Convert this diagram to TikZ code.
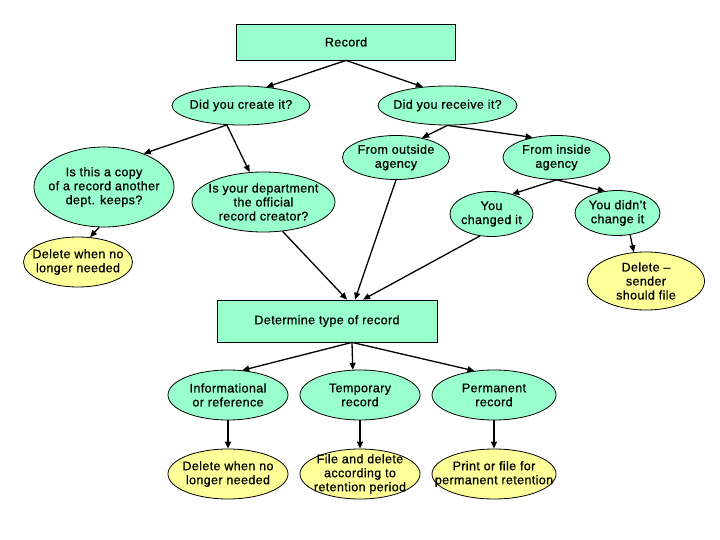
\documentclass[tikz,border=0pt]{standalone}
\usepackage{fontspec}
\setmainfont{Liberation Sans}[LetterSpace=3,FakeBold=0.8]
\usetikzlibrary{shapes.geometric,arrows.meta}
\definecolor{mint}{RGB}{153,255,204}
\definecolor{pale}{RGB}{255,255,153}
\begin{document}
\begin{tikzpicture}[x=1pt,y=-1pt,
  every node/.style={font=\fontsize{12.5}{14}\selectfont, align=center, inner sep=0pt},
  box/.style={draw=black, line width=0.8pt, fill=mint, rectangle},
  qell/.style={draw=black, line width=0.8pt, fill=mint, ellipse},
  yell/.style={draw=black, line width=0.8pt, fill=pale, ellipse},
  txt/.style={label={[align=center]center:#1}},
  arr/.style={draw=black, line width=1.3pt, -{Triangle[length=7pt,width=6pt]}}]
\useasboundingbox (0,0) rectangle (720,540);
% nodes
\node[box, minimum width=219, minimum height=36] (record) at (346,42) {Record};
\node[qell, minimum width=138, minimum height=39, txt={Did you create it?}] (create) at (241,105.5) {};
\node[qell, minimum width=139, minimum height=39, txt={Did you receive it?}] (receive) at (447.5,105.5) {};
\node[qell, minimum width=140, minimum height=80, txt={Is this a copy\\of a record another\\dept. keeps?}] (copy) at (104,187) {};
\node[qell, minimum width=143, minimum height=60, txt={Is your department\\the official\\record creator?}] (dept) at (263.5,202) {};
\node[yell, minimum width=109, minimum height=50, txt={Delete when no\\longer needed}] (del1) at (78,262) {};
\node[qell, minimum width=107, minimum height=44, txt={From outside\\agency}] (outside) at (396,157.5) {};
\node[qell, minimum width=107, minimum height=44, txt={From inside\\agency}] (inside) at (556.5,157.5) {};
\node[qell, minimum width=83, minimum height=45, txt={You\\changed it}] (changed) at (491.5,214) {};
\node[qell, minimum width=85, minimum height=45, txt={You didn't\\change it}] (didnt) at (617.5,213) {};
\node[yell, minimum width=117, minimum height=58, txt={Delete --\\sender\\should file}] (sender) at (646,281) {};
\node[box, minimum width=220, minimum height=42] (det) at (327,321) {Determine type of record};
\node[qell, minimum width=120, minimum height=50, txt={Informational\\or reference}] (info) at (228,395) {};
\node[qell, minimum width=120, minimum height=50, txt={Temporary\\record}] (temp) at (360,395) {};
\node[qell, minimum width=124, minimum height=50, txt={Permanent\\record}] (perm) at (494,395) {};
\node[yell, minimum width=120, minimum height=50, txt={Delete when no\\longer needed}] (del2) at (228,474) {};
\node[yell, minimum width=120, minimum height=50, txt={File and delete\\according to\\retention period}] (file) at (360,474) {};
\node[yell, minimum width=124, minimum height=50, txt={Print or file for\\permanent retention}] (print) at (494,474) {};
% connectors
\draw[arr] (record.south) -- (create.36);
\draw[arr] (record.south) -- (receive.143);
\draw[arr] (create.234) -- (copy.40);
\draw[arr] (create.234) -- (dept.115);
\draw[arr] (copy.263) -- (del1.64);
\draw[arr] (dept.303) -- ([xshift=20]det.north);
\draw[arr] (outside.south) -- ([xshift=28]det.north);
\draw[arr] (changed.242) -- ([xshift=36]det.north);
\draw[arr] (receive.south) -- (outside.37);
\draw[arr] (receive.south) -- (inside.140);
\draw[arr] (inside.south) -- (changed.44);
\draw[arr] (inside.south) -- (didnt.120);
\draw[arr] (didnt.300) -- (sender.113);
\draw[arr] ([xshift=25]det.south) -- (info.60);
\draw[arr] ([xshift=25]det.south) -- (temp.106);
\draw[arr] ([xshift=25]det.south) -- (perm.129);
\draw[arr] (info.south) -- (del2.north);
\draw[arr] (temp.south) -- (file.north);
\draw[arr] (perm.south) -- (print.north);
\end{tikzpicture}
\end{document}
